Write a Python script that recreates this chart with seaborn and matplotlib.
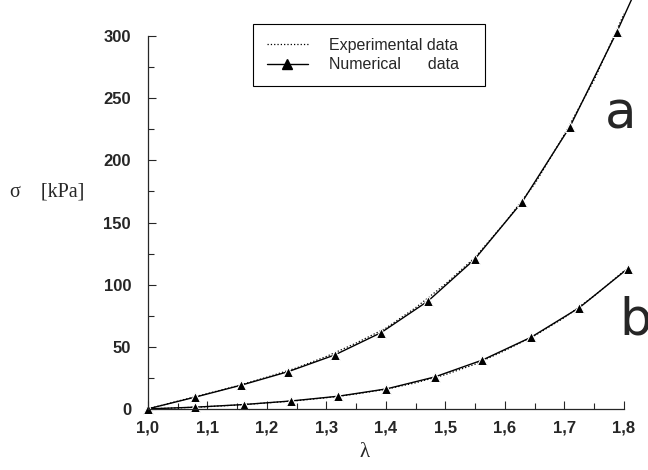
import matplotlib
matplotlib.use('Agg')
import matplotlib.pyplot as plt
from matplotlib.lines import Line2D
from matplotlib.ticker import MultipleLocator, FuncFormatter
import pandas as pd
import seaborn as sns

# numerical data (triangles); last point of curve a only continues the line
num_a_x = [1.0, 1.079, 1.157, 1.236, 1.314, 1.392, 1.471, 1.549, 1.629, 1.709, 1.788, 1.815]
num_a_y = [0, 9.4, 19.1, 30.0, 43.4, 61.4, 86.9, 120.4, 166.7, 227.0, 303.5, 332.0]
num_b_x = [1.0, 1.080, 1.161, 1.241, 1.320, 1.401, 1.482, 1.562, 1.644, 1.725, 1.806]
num_b_y = [0, 1.4, 3.5, 6.4, 10.2, 16.1, 25.7, 39.3, 57.7, 81.5, 112.8]

# experimental data (dotted)
exp_x = [1.0, 1.05, 1.1, 1.15, 1.2, 1.25, 1.3, 1.35, 1.4, 1.45, 1.5, 1.55, 1.6, 1.65, 1.7, 1.75, 1.8]
exp_a_y = [0, 6.2, 12.3, 18.5, 25.5, 33.0, 42.2, 53.0, 65.0, 81.5, 100.5, 122.0, 150.0, 181.0, 221.0, 265.0, 318.0]
exp_b_y = [0, 0.8, 1.8, 3.1, 4.8, 6.6, 9.0, 12.0, 15.8, 21.0, 27.6, 36.0, 47.0, 59.0, 73.5, 91.0, 111.0]

legend_labels = ['Experimental data', 'Numerical      data']
curve_names = ['a', 'b']

sns.set_style('ticks')
plt.rcParams['font.family'] = ['Liberation Sans', 'DejaVu Sans']

fig = plt.figure(figsize=(6.48, 4.70), dpi=100)
ax = fig.add_axes([0.228, 0.130, 0.735, 0.793])

exp_df = pd.DataFrame({'lam': exp_x + exp_x, 'sig': exp_a_y + exp_b_y,
                       'curve': ['a'] * len(exp_x) + ['b'] * len(exp_x)})
for c in curve_names:
    d = exp_df[exp_df['curve'] == c]
    sns.lineplot(data=d, x='lam', y='sig', ax=ax, color='black', lw=0.9,
                 linestyle=':', clip_on=False, legend=False)

sns.lineplot(x=num_a_x, y=num_a_y, ax=ax, color='black', lw=1.0, marker='^',
             markersize=7, markevery=list(range(11)), clip_on=False, legend=False)
sns.lineplot(x=num_b_x, y=num_b_y, ax=ax, color='black', lw=1.0, marker='^',
             markersize=7, clip_on=False, legend=False)

ax.set_xlim(1.0, 1.8)
ax.set_ylim(0, 300)
ax.xaxis.set_major_locator(MultipleLocator(0.1))
ax.xaxis.set_minor_locator(MultipleLocator(0.05))
ax.yaxis.set_major_locator(MultipleLocator(50))
ax.yaxis.set_minor_locator(MultipleLocator(25))
ax.xaxis.set_major_formatter(FuncFormatter(lambda v, p: f'{v:.1f}'.replace('.', ',')))
ax.tick_params(which='major', direction='in', length=6, width=0.8, labelsize=12)
ax.tick_params(which='minor', direction='in', length=4, width=0.8)
ax.tick_params(axis='y', pad=12)
ax.tick_params(axis='x', pad=8)
for lbl in ax.get_xticklabels() + ax.get_yticklabels():
    lbl.set_fontweight('bold')
for s in ['top', 'right']:
    ax.spines[s].set_visible(False)
for s in ['left', 'bottom']:
    ax.spines[s].set_linewidth(0.9)
ax.set_xlabel('')
ax.set_ylabel('')

fig.text(0.563, 0.038, 'λ', family=['Liberation Serif', 'DejaVu Serif'], fontsize=15,
         ha='center', va='center')
fig.text(0.015, 0.591, 'σ    [kPa]', family=['Liberation Serif', 'DejaVu Serif'],
         fontsize=14.5, ha='left', va='center')

ax.text(1.768, 226, 'a', fontsize=37, family=['DejaVu Sans'], ha='left', va='baseline',
        clip_on=False)
ax.text(1.792, 59.5, 'b', fontsize=37, family=['DejaVu Sans'], ha='left', va='baseline',
        clip_on=False)

handles = [Line2D([], [], color='black', lw=0.9, linestyle=':'),
           Line2D([], [], color='black', lw=1.0, marker='^', markersize=7)]
leg = fig.legend(handles, legend_labels, loc='upper left',
                 bbox_to_anchor=(253 / 648, 1 - 82 / 470, 232 / 648, 58 / 470),
                 mode='expand', borderaxespad=0,
                 fontsize=11.5, handlelength=2.6, handletextpad=1.3, borderpad=0.85,
                 labelspacing=0.3, fancybox=False, framealpha=1, edgecolor='black')
leg.get_frame().set_linewidth(0.8)

fig.savefig('out.png', dpi=100)
